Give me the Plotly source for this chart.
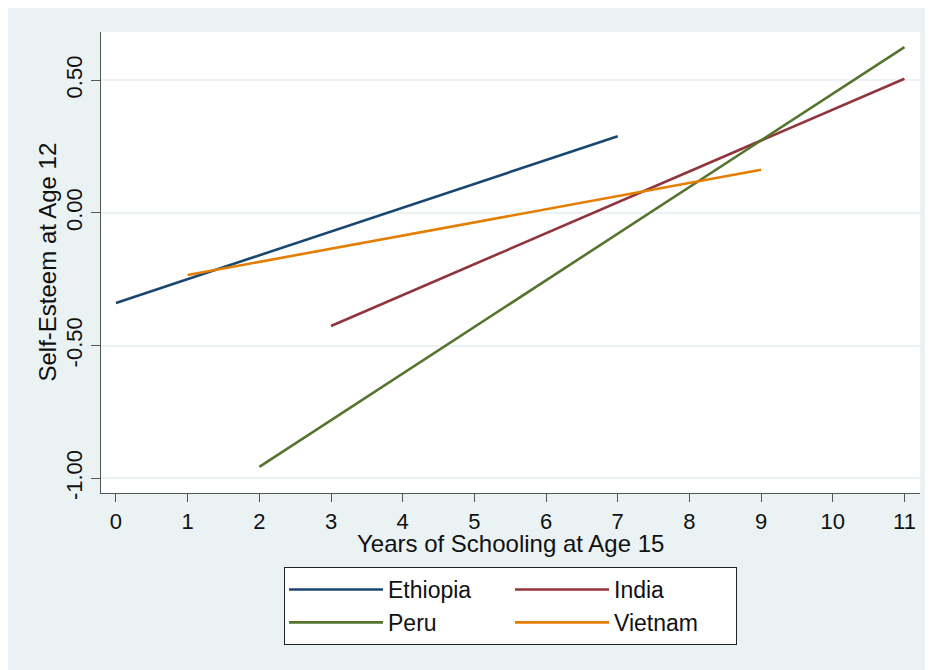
import plotly.graph_objects as go

# Data (fitted lines: start/end points per country)
countries = ["Ethiopia", "India", "Peru", "Vietnam"]
x_start = [0, 3, 2, 1]
x_end = [7, 11, 11, 9]
y_start = [-0.339, -0.426, -0.957, -0.234]
y_end = [0.289, 0.506, 0.625, 0.163]
colors = ["#1a476f", "#90353b", "#55752f", "#e37e00"]
legend_cols = ["a", "b", "a", "b"]

x_ticks = list(range(0, 12))
y_tickvals = [-1.0, -0.5, 0.0, 0.5]
y_ticktext = ["-1.00", "-0.50", "0.00", "0.50"]
x_title = "Years of Schooling at Age 15"
y_title = "Self-Esteem at Age 12"

FONT = "Liberation Sans, Arial, sans-serif"
BAND = "#eaf2f3"
FS = 24

fig = go.Figure()
for name, xs, xe, ys, ye, c, g in zip(countries, x_start, x_end, y_start, y_end, colors, legend_cols):
    fig.add_trace(go.Scatter(x=[xs, xe], y=[ys, ye], mode="lines", name=name, legendgroup=g,
                             line=dict(color=c, width=2.6)))

# page is offset by the 8px body margin
W, H = 925, 662
L, R, T, B = 93, 13, 24, 177
pw, ph = W - L - R, H - T - B
legend_top = 567 - 8  # in figure px

fig.update_layout(
    width=W, height=H,
    margin=dict(l=L, r=R, t=T, b=B, pad=0),
    paper_bgcolor=BAND, plot_bgcolor="white",
    font=dict(family=FONT, size=FS, color="#111"),
    showlegend=True,
    legend=dict(orientation="h", traceorder="grouped", x=0.5, xanchor="center",
                y=(T + ph - legend_top) / ph,
                yanchor="top", yref="paper", bgcolor="white", bordercolor="#222", borderwidth=1,
                font=dict(size=23, family=FONT, color="#111"),
                itemwidth=94, tracegroupgap=0, entrywidth=117, entrywidthmode="pixels"),
    annotations=[
        dict(text=x_title, xref="paper", yref="paper", x=0.5, y=(T + ph - 535) / ph,
             xanchor="center", yanchor="middle", showarrow=False, font=dict(size=FS)),
        dict(text=y_title, xref="paper", yref="paper", x=(39 - L) / pw, y=0.5, textangle=-90,
             xanchor="center", yanchor="middle", showarrow=False, font=dict(size=FS)),
    ],
)

fig.update_xaxes(range=[-0.209, 11.217], tickvals=x_ticks, ticks="outside", ticklen=8,
                 tickcolor="#555", tickwidth=1.3, showline=True, linecolor="#555", linewidth=1.3,
                 showgrid=False, zeroline=False, tickfont=dict(size=22))
fig.update_yaxes(range=[-1.0554, 0.682], tickvals=y_tickvals, ticktext=y_ticktext, tickangle=-90,
                 ticks="outside", ticklen=9, tickcolor="#555", tickwidth=1.3,
                 showline=True, linecolor="#555", linewidth=1.3,
                 showgrid=True, gridcolor=BAND, gridwidth=2, zeroline=False, tickfont=dict(size=22))

fig.write_html("out.html")
